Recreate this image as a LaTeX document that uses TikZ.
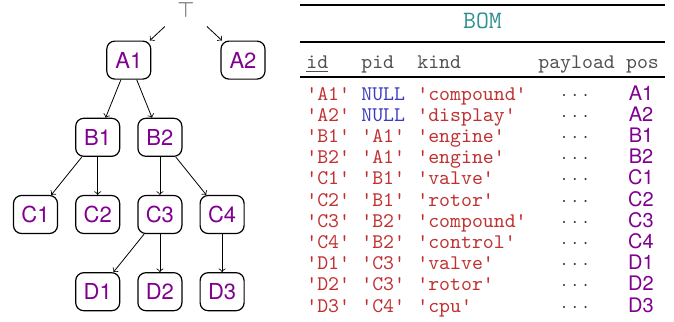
\documentclass[tikz,border=0pt]{standalone}
\usepackage{fontspec}
\setsansfont{TeX Gyre Heros}
\usepackage{xcolor}
\usepackage{tikz}
\usetikzlibrary{positioning}
\usetikzlibrary{calc}
\definecolor{strred}{HTML}{C03030}
\definecolor{nullblue}{HTML}{3B3BC0}
\definecolor{pospurple}{HTML}{800090}
\definecolor{bomteal}{HTML}{2F9090}
\definecolor{hdrgray}{HTML}{505050}
\newcommand{\q}[1]{\textcolor{strred}{\textquotesingle#1\textquotesingle}}
\newcommand{\nul}{\textcolor{nullblue}{NULL}}
\newcommand{\dotsgap}{$\cdot$\hspace{2.6pt}$\cdot$\hspace{2.6pt}$\cdot$}

\begin{document}
\begin{tikzpicture}[x=1pt,y=1pt,node distance=19pt and 8.5pt,
  part/.style={draw,rounded corners=4pt,line width=0.6pt,minimum width=22pt,minimum height=19pt,inner sep=0pt,font=\fontsize{11}{13}\selectfont\sffamily,text=pospurple},
  cell/.style={anchor=base west,inner sep=0pt,font=\fontsize{10.4}{12}\selectfont\ttfamily},
  poscell/.style={anchor=base,inner sep=0pt,font=\fontsize{10}{12}\selectfont\sffamily,text=pospurple}]
\useasboundingbox (0,0) rectangle (337,-160.5);
% tree of parts
\node[part] (C1) at (17.75,-107.25) {C1};
\node[part] (C2) [right=of C1] {C2};
\node[part] (C3) [right=of C2] {C3};
\node[part] (C4) [right=of C3] {C4};
\node[part] (B1) [above=of C2] {B1};
\node[part] (B2) [above=of C3] {B2};
\node[part] (D1) [below=of C2] {D1};
\node[part] (D2) [below=of C3] {D2};
\node[part] (D3) [below=of C4] {D3};
\node[part] (A1) [above=of $(B1.north)!0.5!(B2.north)$] {A1};
\node[part] (A2) [right=34.5pt of A1] {A2};
\node[part,draw=none,text=black!70] (top) [above=7pt of $(A1.north)!0.5!(A2.north)$] {\raisebox{-5.5pt}[0pt][0pt]{$\top$}};
\path[->]
    (top) edge (A1)
    (top) edge (A2)
    (A1) edge (B1)
    (A1) edge (B2)
    (B1) edge (C1)
    (B1) edge (C2)
    (B2) edge (C3)
    (B2) edge (C4)
    (C3) edge (D1)
    (C3) edge (D2)
    (C4) edge (D3);
% table
\draw[line width=1.2pt] (150,-2.5) -- (332.5,-2.5);
\node[cell,anchor=base,text=bomteal,font=\fontsize{12.5}{14}\selectfont\ttfamily] (bom) at (241.25,-14.2) {BOM};
\draw[line width=0.6pt] (150,-21) -- (332.5,-21);
\node[cell,text=hdrgray] (h-id) at (153,-34) {\underline{id}};
\node[cell,text=hdrgray] (h-pid) at (180.5,-34) {pid};
\node[cell,text=hdrgray] (h-kind) at (208.5,-34) {kind};
\node[cell,text=hdrgray] (h-payload) at (269,-34) {payload};
\node[cell,anchor=base,text=hdrgray] (h-pos) at (321.25,-34) {pos};
\draw[line width=0.6pt] (150,-38.5) -- (332.5,-38.5);
\foreach \id/\pid/\kind [count=\i from 0] in {A1/\nul/compound,A2/\nul/display,
    B1/\q{A1}/engine,B2/\q{A1}/engine,C1/\q{B1}/valve,C2/\q{B1}/rotor,
    C3/\q{B2}/compound,C4/\q{B2}/control,D1/\q{C3}/valve,D2/\q{C3}/rotor,D3/\q{C4}/cpu}{
  \node[cell] (id-\i) at (153,-50-10.6*\i) {\q{\id}};
  \node[cell] (pid-\i) at (180.5,-50-10.6*\i) {\pid};
  \node[cell] (kind-\i) at (208.5,-50-10.6*\i) {\q{\kind}};
  \node[anchor=base,inner sep=0pt,text=black!80,font=\fontsize{10}{12}\selectfont] (dots-\i) at (287.5,-50-10.6*\i) {\dotsgap};
  \node[poscell] (pos-\i) at (320.5,-50-10.6*\i) {\id};
}
\end{tikzpicture}
\end{document}
